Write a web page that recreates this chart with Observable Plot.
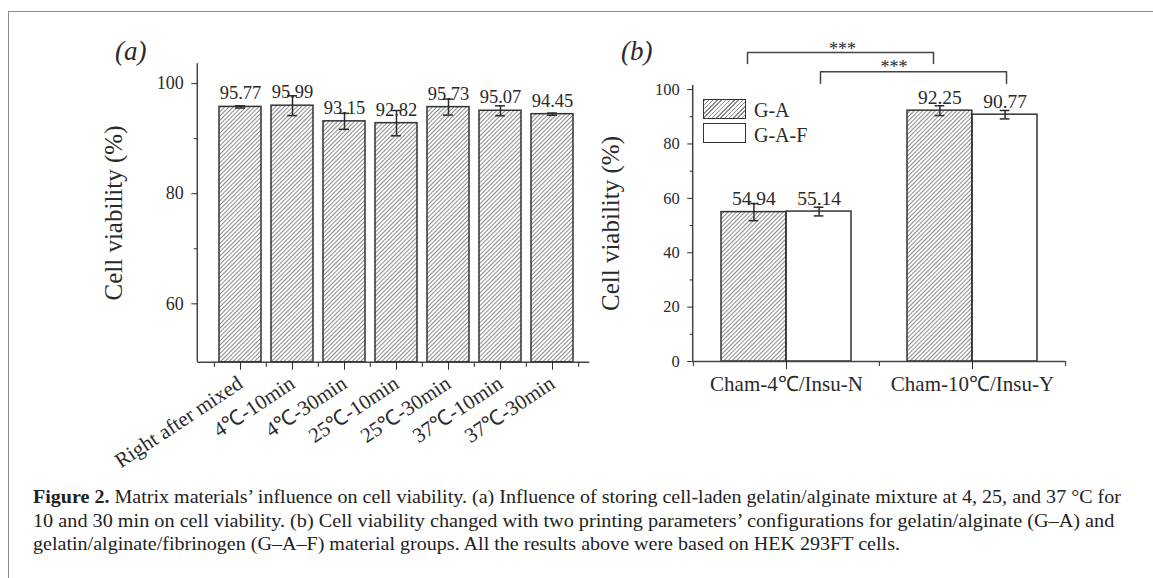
<!DOCTYPE html>
<html>
<head>
<meta charset="utf-8">
<script src="https://cdn.jsdelivr.net/npm/d3@7"></script>
<script src="https://cdn.jsdelivr.net/npm/@observablehq/plot@0.6"></script>
<style>
  body { margin: 0; background: #fff; }
  #fig { position: relative; width: 1153px; height: 578px; overflow: hidden; font-family: "Liberation Serif", "Times New Roman", serif; color: #2a2a2a; background: #fff; }
  #frame { position: absolute; left: 8px; top: 11px; width: 1200px; height: 600px; border-top: 1.5px solid #8c8c8c; border-left: 1.5px solid #8c8c8c; }
  .panel { position: absolute; top: 0; }
  .tag { position: absolute; font-style: italic; font-size: 27px; line-height: 27px; }
  .sw { position: absolute; width: 41px; height: 18px; border: 1.5px solid #333; background: #fff; }
  .hatch { background: repeating-linear-gradient(135deg, #8a8a8a 0 1px, #ffffff 1px 3px); }
  .lg { position: absolute; font-size: 20px; line-height: 20px; }
  #caption { position: absolute; left: 0; top: 478px; }
</style>
</head>
<body>
<div id="fig">
  <div id="frame"></div>
  <div id="pa" class="panel" style="left:0"></div>
  <div id="pb" class="panel" style="left:600px"></div>
  <div class="tag" style="left:115px;top:38px">(a)</div>
  <div class="tag" style="left:621px;top:38px">(b)</div>
  <div id="legend"></div>
  <div id="caption"></div>
</div>
<script>
// ---------- data: panel (a)
const catsA = ["Right after mixed", "4℃-10min", "4℃-30min", "25℃-10min", "25℃-30min", "37℃-10min", "37℃-30min"];
const valsA = [95.77, 95.99, 93.15, 92.82, 95.73, 95.07, 94.45];
const errA  = [0.2, 1.8, 1.45, 2.3, 1.45, 0.9, 0.2];
const yTicksA = [60, 80, 100];
const yMinorA = [70, 90];
const yDomainA = [49.4, 103.6];

// ---------- data: panel (b)
const groupsB = ["Cham-4℃/Insu-N", "Cham-10℃/Insu-Y"];
const seriesB = ["G-A", "G-A-F"];
const valsGA  = [54.94, 92.25];
const errGA   = [3.15, 1.8];
const valsGAF = [55.14, 90.77];
const errGAF  = [1.6, 1.55];
const yTicksB = [0, 20, 40, 60, 80, 100];
const yMinorB = [10, 30, 50, 70, 90];
const yDomainB = [0, 101.5];
const sigLabel = "***";
const bracket1Y = [109.6, 113.6];
const bracket2Y = [102.2, 106.6];

const axisTitle = "Cell viability (%)";
const captionLines = [
  [["Figure 2.", true], [" Matrix materials’ influence on cell viability. (a) Influence of storing cell-laden gelatin/alginate mixture at 4, 25, and 37 °C for", false]],
  [["10 and 30 min on cell viability. (b) Cell viability changed with two printing parameters’ configurations for gelatin/alginate (G–A) and", false]],
  [["gelatin/alginate/fibrinogen (G–A–F) material groups. All the results above were based on HEK 293FT cells.", false]]
];

// ---------- helpers
const INK = "#2a2a2a";
function hatchDefs(id) {
  return () => {
    const defs = d3.create("svg:defs");
    const p = defs.append("pattern").attr("id", id).attr("patternUnits", "userSpaceOnUse")
      .attr("width", 3).attr("height", 3).attr("patternTransform", "rotate(45)");
    p.append("rect").attr("width", 3).attr("height", 3).attr("fill", "#fff");
    p.append("line").attr("x1", 0.5).attr("y1", 0).attr("x2", 0.5).attr("y2", 3)
      .attr("stroke", "#8a8a8a").attr("stroke-width", 1);
    return defs.node();
  };
}
const yAxisLine = (index, scales, values, d) =>
  d3.create("svg:line").attr("x1", d.marginLeft).attr("x2", d.marginLeft)
    .attr("y1", d.marginTop).attr("y2", d.height - d.marginBottom)
    .attr("stroke", "#444").attr("stroke-width", 1.5).node();

// ---------- panel (a)
const dataA = catsA.map((c, i) => ({c, v: valsA[i], e: errA[i]}));
const WA = 600, mLA = 197.3, mRA = 10.6;
const padIA = 0.195, padOA = 0.35;
const stepA = (WA - mLA - mRA) / (catsA.length - padIA + 2 * padOA);
const bwA = stepA * (1 - padIA);
const capA = 10;

const plotA = Plot.plot({
  width: WA, height: 480,
  marginLeft: mLA, marginRight: mRA, marginTop: 63.3, marginBottom: 118.3,
  style: {fontFamily: '"Liberation Serif", "Times New Roman", serif', fontSize: "18px", color: INK, background: "transparent", overflow: "visible"},
  x: {type: "band", domain: catsA, paddingInner: padIA, paddingOuter: padOA, align: 0.57},
  y: {domain: yDomainA},
  marks: [
    hatchDefs("hatchA"),
    Plot.barY(dataA, {x: "c", y1: yDomainA[0], y2: "v", fill: "url(#hatchA)", stroke: "#333", strokeWidth: 1.5}),
    Plot.ruleX(dataA, {x: "c", y1: d => d.v - d.e, y2: d => d.v + d.e, stroke: INK, strokeWidth: 1.5}),
    Plot.tickY(dataA, {x: "c", y: d => d.v - d.e, insetLeft: (bwA - capA) / 2, insetRight: (bwA - capA) / 2, stroke: INK, strokeWidth: 1.5}),
    Plot.tickY(dataA, {x: "c", y: d => d.v + d.e, insetLeft: (bwA - capA) / 2, insetRight: (bwA - capA) / 2, stroke: INK, strokeWidth: 1.5}),
    Plot.text(dataA, {x: "c", y: "v", text: d => d.v.toFixed(2), dy: -13.5, fontSize: 18.5, fill: INK}),
    Plot.ruleY([yDomainA[0]], {stroke: "#444", strokeWidth: 1.5}),
    yAxisLine,
    Plot.axisY({ticks: yTicksA, tickSize: 6, tickPadding: 8, fontSize: 18, label: null}),
    Plot.axisY({ticks: yMinorA, tickSize: 3.5, tickFormat: () => "", label: null}),
    Plot.axisX({tickSize: 8, tickPadding: 11, tickRotate: -33.5, fontSize: 21, label: null}),
    Plot.ruleX(catsA, {x: d => d, y1: yDomainA[0], y2: yDomainA[0], insetBottom: -5, dx: -stepA / 2, stroke: "#444", strokeWidth: 1.2}),
    Plot.ruleX(catsA.slice(-1), {x: d => d, y1: yDomainA[0], y2: yDomainA[0], insetBottom: -5, dx: stepA / 2, stroke: "#444", strokeWidth: 1.2}),
    Plot.text([axisTitle], {text: d => d, frameAnchor: "left", textAnchor: "middle", rotate: -90, dx: -84, fontSize: 25, fill: INK})
  ]
});
document.getElementById("pa").append(plotA);

// ---------- panel (b)
const dataB = [];
groupsB.forEach((g, i) => {
  dataB.push({g, s: seriesB[0], v: valsGA[i], e: errGA[i]});
  dataB.push({g, s: seriesB[1], v: valsGAF[i], e: errGAF[i]});
});
const dGA = dataB.filter(d => d.s === seriesB[0]);
const dGAF = dataB.filter(d => d.s === seriesB[1]);
const WB = 553, mLB = 92.7, mRB = 88;
const padIB = 0.3, padOB = 0.15;
const stepB = (WB - mLB - mRB) / (groupsB.length - padIB + 2 * padOB);
const bwB = stepB * (1 - padIB);
const q = bwB / 4, capB = 10;

const bracket1 = [[0, 0], [0, 1], [1, 1], [1, 0]].map(([gi, yi]) => ({g: groupsB[gi], y: bracket1Y[yi]}));
const bracket2 = [[0, 0], [0, 1], [1, 1], [1, 0]].map(([gi, yi]) => ({g: groupsB[gi], y: bracket2Y[yi]}));

const plotB = Plot.plot({
  width: WB, height: 480,
  marginLeft: mLB, marginRight: mRB, marginTop: 85, marginBottom: 119,
  style: {fontFamily: '"Liberation Serif", "Times New Roman", serif', fontSize: "17px", color: INK, background: "transparent", overflow: "visible"},
  x: {type: "band", domain: groupsB, paddingInner: padIB, paddingOuter: padOB},
  y: {domain: yDomainB},
  marks: [
    hatchDefs("hatchB"),
    Plot.barY(dGA, {x: "g", y1: 0, y2: "v", insetRight: bwB / 2, fill: "url(#hatchB)", stroke: "#333", strokeWidth: 1.5}),
    Plot.barY(dGAF, {x: "g", y1: 0, y2: "v", insetLeft: bwB / 2, fill: "#fff", stroke: "#333", strokeWidth: 1.5}),
    Plot.ruleX(dGA, {x: "g", y1: d => d.v - d.e, y2: d => d.v + d.e, dx: -q, stroke: INK, strokeWidth: 1.5}),
    Plot.ruleX(dGAF, {x: "g", y1: d => d.v - d.e, y2: d => d.v + d.e, dx: q, stroke: INK, strokeWidth: 1.5}),
    Plot.tickY(dGA, {x: "g", y: d => d.v - d.e, insetLeft: q - capB / 2, insetRight: bwB - q - capB / 2, stroke: INK, strokeWidth: 1.5}),
    Plot.tickY(dGA, {x: "g", y: d => d.v + d.e, insetLeft: q - capB / 2, insetRight: bwB - q - capB / 2, stroke: INK, strokeWidth: 1.5}),
    Plot.tickY(dGAF, {x: "g", y: d => d.v - d.e, insetLeft: 3 * q - capB / 2, insetRight: q - capB / 2, stroke: INK, strokeWidth: 1.5}),
    Plot.tickY(dGAF, {x: "g", y: d => d.v + d.e, insetLeft: 3 * q - capB / 2, insetRight: q - capB / 2, stroke: INK, strokeWidth: 1.5}),
    Plot.text(dGA, {x: "g", y: "v", text: d => d.v.toFixed(2), dx: -q, dy: -13.3, fontSize: 19.5, fill: INK}),
    Plot.text(dGAF, {x: "g", y: "v", text: d => d.v.toFixed(2), dx: q, dy: -13.3, fontSize: 19.5, fill: INK}),
    Plot.line(bracket1, {x: "g", y: "y", dx: -39, stroke: "#444", strokeWidth: 1.5}),
    Plot.line(bracket2, {x: "g", y: "y", dx: 34, stroke: "#444", strokeWidth: 1.5}),
    Plot.text([sigLabel], {x: () => groupsB[0], y: () => bracket1Y[1], text: d => d, dx: 56, dy: -3.5, fontSize: 18, fill: INK}),
    Plot.text([sigLabel], {x: () => groupsB[0], y: () => bracket2Y[1], text: d => d, dx: 107.5, dy: -4, fontSize: 18, fill: INK}),
    Plot.ruleY([0], {stroke: "#444", strokeWidth: 1.5}),
    yAxisLine,
    Plot.axisY({ticks: yTicksB, tickSize: 5.5, tickPadding: 8, fontSize: 16.5, label: null}),
    Plot.axisY({ticks: yMinorB, tickSize: 3, tickFormat: () => "", label: null}),
    Plot.axisX({tickSize: 8, tickPadding: 7, fontSize: 21, label: null}),
    Plot.ruleX(groupsB, {x: d => d, y1: 0, y2: 0, insetBottom: -5, dx: -stepB / 2, stroke: "#444", strokeWidth: 1.2}),
    Plot.ruleX(groupsB.slice(-1), {x: d => d, y1: 0, y2: 0, insetBottom: -5, dx: stepB / 2, stroke: "#444", strokeWidth: 1.2}),
    Plot.text([axisTitle], {text: d => d, frameAnchor: "left", textAnchor: "middle", rotate: -90, dx: -82, fontSize: 25, fill: INK})
  ]
});
document.getElementById("pb").append(plotB);

// ---------- legend (panel b)
const legend = document.getElementById("legend");
seriesB.forEach((s, i) => {
  const sw = document.createElement("div");
  sw.className = "sw" + (i === 0 ? " hatch" : "");
  sw.style.left = "703px";
  sw.style.top = (i === 0 ? 99 : 123.3) + "px";
  legend.append(sw);
  const lb = document.createElement("div");
  lb.className = "lg";
  lb.textContent = s;
  lb.style.left = "754px";
  lb.style.top = (i === 0 ? 99.5 : 124.5) + "px";
  legend.append(lb);
});

// ---------- caption
const capSvg = d3.create("svg").attr("width", 1153).attr("height", 100);
document.getElementById("caption").append(capSvg.node());
const capWidths = [1089, 1082, 868];
const capBase = [25, 49, 72];
captionLines.forEach((parts, i) => {
  const t = capSvg.append("text").attr("font-family", '"Liberation Serif", "Times New Roman", serif')
    .attr("font-size", 18).attr("fill", "#222");
  parts.forEach(([txt, bold]) => {
    t.append("tspan").text(txt).attr("font-weight", bold ? "bold" : "normal").style("white-space", "pre");
  });
  t.attr("xml:space", "preserve");
  const w = t.node().getComputedTextLength();
  t.attr("transform", `translate(33,${capBase[i]}) scale(${capWidths[i] / w},1)`);
});
</script>
</body>
</html>
